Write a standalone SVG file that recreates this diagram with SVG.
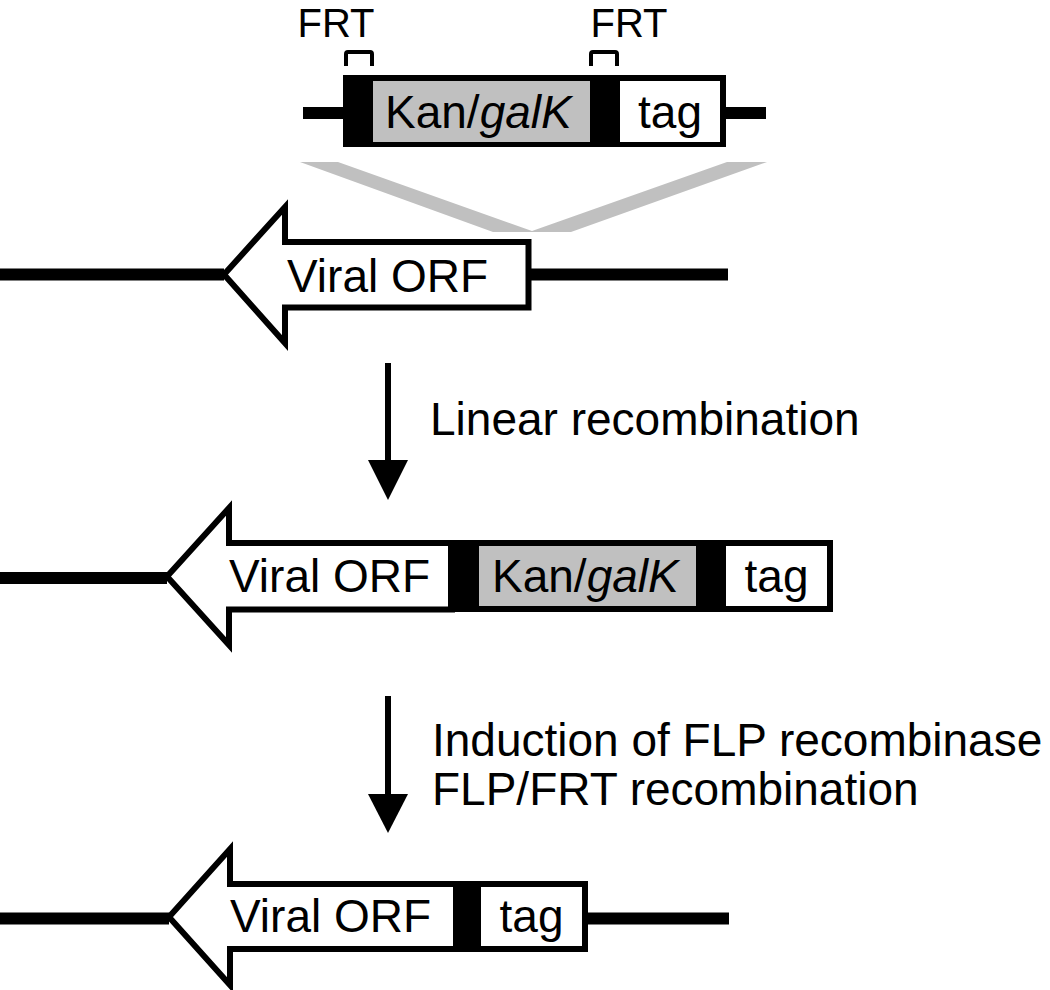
<svg xmlns="http://www.w3.org/2000/svg" width="1050" height="990" viewBox="0 0 1050 990">
<style>
.t{font-family:"Liberation Sans",Arial,sans-serif;font-size:46px;fill:#000}
.frt{font-family:"Liberation Sans",Arial,sans-serif;font-size:40px;fill:#000}
.dna{stroke:#000;stroke-width:12;fill:none}
.orf{fill:#fff;stroke:#000;stroke-width:6;stroke-linejoin:miter;stroke-miterlimit:10}
.blk{fill:#000}
.gray{fill:#c0c0c0}
.wht{fill:#fff}
.br{fill:none;stroke:#000;stroke-width:4}
.shaft{stroke:#000;stroke-width:6}
</style>
<rect width="1050" height="990" fill="#fff"/>

<g id="cassette">
  <line class="dna" x1="303" y1="113" x2="766" y2="113"/>
  <rect class="blk" x="343" y="75" width="383" height="72"/>
  <rect class="gray" x="373" y="81" width="217" height="61"/>
  <rect class="wht" x="620" y="81" width="100" height="61"/>
  <text class="t" x="385" y="128">Kan/<tspan font-style="italic">galK</tspan></text>
  <text class="t" x="670" y="128" text-anchor="middle">tag</text>
  <path class="br" d="M346,66 V54 Q346,52 348,52 H370 Q372,52 372,54 V66"/>
  <path class="br" d="M591,66 V54 Q591,52 593,52 H615 Q617,52 617,54 V66"/>
  <text class="frt" x="336" y="37" text-anchor="middle">FRT</text>
  <text class="frt" x="629" y="37" text-anchor="middle">FRT</text>
</g>

<g id="insertion">
  <polygon fill="#c0c0c0" points="300,162 338,162 532,231 727,162 767,162 571,232 493,232"/>
</g>

<g id="row1">
  <line class="dna" x1="0" y1="274.5" x2="224" y2="274.5"/>
  <line class="dna" x1="528" y1="274.5" x2="728" y2="274.5"/>
  <polygon class="orf" points="224,274.5 285,207 285,242 528.5,242 528.5,307.5 285,307.5 285,343"/>
  <text class="t" x="287" y="292">Viral ORF</text>
</g>

<g id="row2">
  <line class="dna" x1="0" y1="578" x2="167" y2="578"/>
  <polygon class="orf" points="167,576.5 229,508 229,543 452,543 452,609.5 229,609.5 229,645"/>
  <rect class="blk" x="448" y="540" width="385" height="72"/>
  <rect class="gray" x="479" y="546" width="217" height="60"/>
  <rect class="wht" x="726" y="546" width="101" height="60"/>
  <text class="t" x="229" y="592">Viral ORF</text>
  <text class="t" x="492" y="592">Kan/<tspan font-style="italic">galK</tspan></text>
  <text class="t" x="776.5" y="592" text-anchor="middle">tag</text>
</g>

<g id="row3">
  <line class="dna" x1="0" y1="918.5" x2="169" y2="918.5"/>
  <line class="dna" x1="586" y1="918.5" x2="729" y2="918.5"/>
  <polygon class="orf" points="169,917 230,849 230,884 456,884 456,949 230,949 230,985"/>
  <rect class="blk" x="453" y="881" width="135" height="71"/>
  <rect class="wht" x="481" y="887" width="101" height="59"/>
  <text class="t" x="230" y="932">Viral ORF</text>
  <text class="t" x="531.5" y="932" text-anchor="middle">tag</text>
</g>

<g id="connectors">
  <line class="shaft" x1="388" y1="363" x2="388" y2="462"/>
  <polygon points="368,460 408,460 388,500"/>
  <line class="shaft" x1="388" y1="696" x2="388" y2="796"/>
  <polygon points="368,794 408,794 388,833"/>
</g>

<g id="labels">
  <text class="t" x="430" y="435">Linear recombination</text>
  <text class="t" x="432" y="756">Induction of FLP recombinase</text>
  <text class="t" x="432" y="805">FLP/FRT recombination</text>
</g>
</svg>
